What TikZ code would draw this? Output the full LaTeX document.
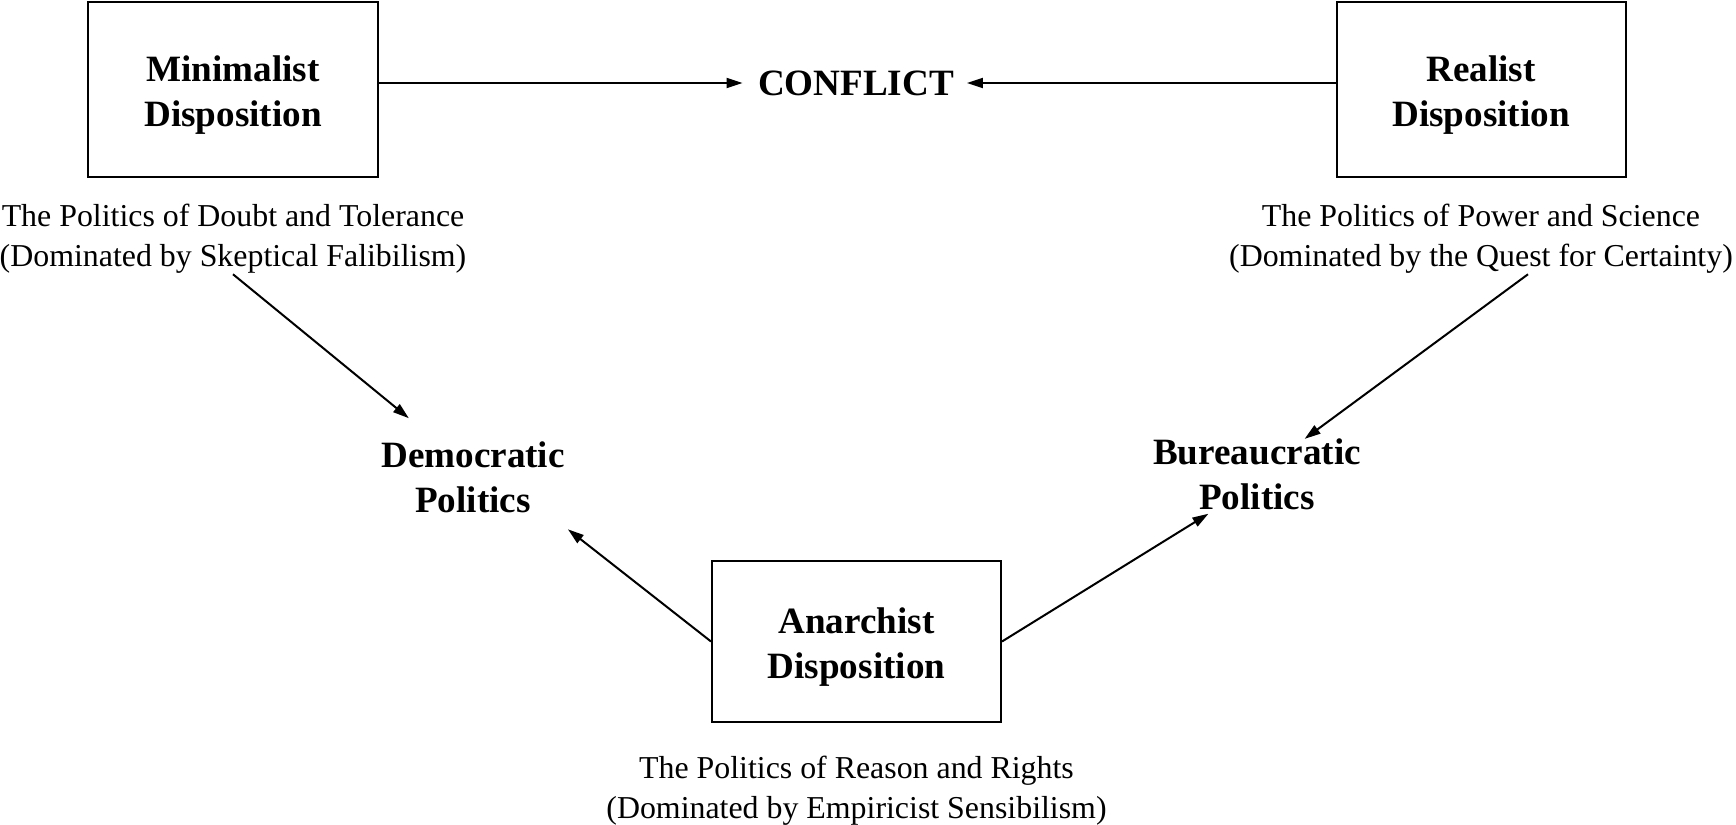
\documentclass[tikz,border=0pt]{standalone}
\usepackage{fontspec}
\setmainfont{Liberation Serif}
\usetikzlibrary{arrows.meta,positioning}
\begin{document}
\begin{tikzpicture}[x=0.4pt,y=-0.4pt,
  font=\fontsize{12.75}{16}\selectfont,
  disp/.style={draw,line width=0.8pt,align=center,minimum width=115.6pt,
               minimum height=70pt,font=\fontsize{14.85}{18}\selectfont\bfseries,
               execute at begin node={\rule{0pt}{32.5pt}}},
  pol/.style={align=center,inner sep=2pt,font=\fontsize{14.85}{18}\selectfont\bfseries},
  note/.style={align=center,inner sep=2pt},
  flow/.style={-{Triangle[length=6.4pt,width=4pt]},line width=0.8pt}]

\useasboundingbox (0,0) rectangle (1736,825);

\node[disp] (mini) at (233,89.7) {Minimalist\\Disposition};
\node[disp] (real) at (1481,89.7) {Realist\\Disposition};
\node[disp,minimum height=64pt] (anar) at (856.5,641.5) {Anarchist\\Disposition};
\node[pol] (conf) at (856,83) {CONFLICT};
\node[pol] (demo) at (473,477) {Democratic\\Politics};
\node[pol] (bure) at (1257,474) {Bureaucratic\\Politics};

\node[note,below=8.3pt of mini] (mnote) {The Politics of Doubt and Tolerance\\
                (Dominated by Skeptical Falibilism)};
\node[note,below=8.3pt of real] (rnote) {The Politics of Power and Science\\
                (Dominated by the Quest for Certainty)};
\node[note,below=11.1pt of anar] (anote) {The Politics of Reason and Rights\\
                (Dominated by Empiricist Sensibilism)};

\draw[flow,shorten >=4pt] (mini.east |- conf) -- (conf);
\draw[flow,shorten >=3pt] (real.west |- conf) -- (conf);
\draw[flow,shorten >=11.2pt] ([yshift=2pt]mnote.south) -- (demo.136);
\draw[flow,shorten >=-4pt] ([xshift=18.8pt,yshift=2pt]rnote.south) -- (bure);
\draw[flow,shorten >=7.3pt] (anar.west) -- (demo.-27);
\draw[flow,shorten >=-1pt] (anar.east) -- (bure.-141);
\end{tikzpicture}
\end{document}
